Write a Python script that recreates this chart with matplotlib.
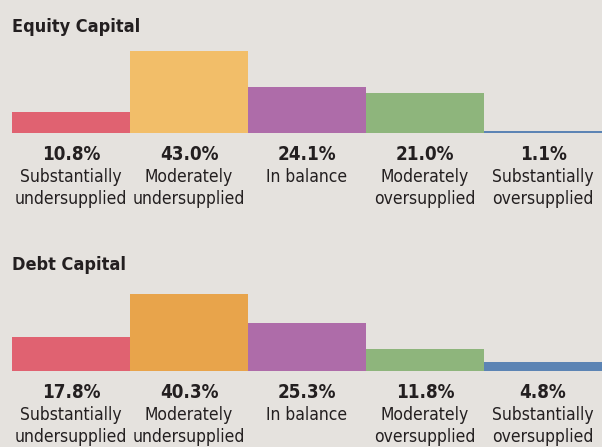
import matplotlib.pyplot as plt

# data
categories = [["Substantially", "undersupplied"], ["Moderately", "undersupplied"], ["In balance"],
              ["Moderately", "oversupplied"], ["Substantially", "oversupplied"]]
equity = [10.8, 43.0, 24.1, 21.0, 1.1]
debt = [17.8, 40.3, 25.3, 11.8, 4.8]

equity_colors = ["#e06271", "#f2be69", "#ae6ca9", "#8eb57c", "#5c84b4"]
debt_colors = ["#e06271", "#e8a44b", "#ae6ca9", "#8eb57c", "#5c84b4"]

bg = "#e5e2de"
txt = "#231f20"

plt.rcParams['font.family'] = ['DejaVu Sans']
plt.rcParams['font.stretch'] = 'condensed'

W, H = 602, 447
fig = plt.figure(figsize=(W / 100, H / 100), dpi=100, facecolor=bg)

px_per_pct = 1.9
ymax = 45


def panel(base_y, title, values, colors):
    left = 12
    bottom = H - base_y
    ax = fig.add_axes([left / W, bottom / H, (W - left) / W, ymax * px_per_pct / H])
    ax.patch.set_alpha(0)
    ax.bar(range(5), values, width=1.0, align='edge', color=colors, linewidth=0)
    ax.set_xlim(0, 5)
    ax.set_ylim(0, ymax)
    ax.axis('off')
    for i, (v, lines) in enumerate(zip(values, categories)):
        ax.annotate(f"{v:.1f}%", (i + 0.5, 0), xytext=(0, -22 * 0.72), textcoords='offset points',
                    ha='center', va='center', fontsize=13.5, fontweight='bold', color=txt,
                    fontstretch='condensed', annotation_clip=False)
        for k, line in enumerate(lines):
            ax.annotate(line, (i + 0.5, 0), xytext=(0, -(44 + 22 * k) * 0.72), textcoords='offset points',
                        ha='center', va='center', fontsize=12.5, color=txt,
                        fontstretch='condensed', annotation_clip=False)
    fig.text(12 / W, 1 - (base_y - 106) / H, title, ha='left', va='center',
             fontsize=13, fontweight='bold', color=txt, fontstretch='condensed')


panel(133, "Equity Capital", equity, equity_colors)
panel(371, "Debt Capital", debt, debt_colors)

fig.savefig("out.png", dpi=100, facecolor=bg)
